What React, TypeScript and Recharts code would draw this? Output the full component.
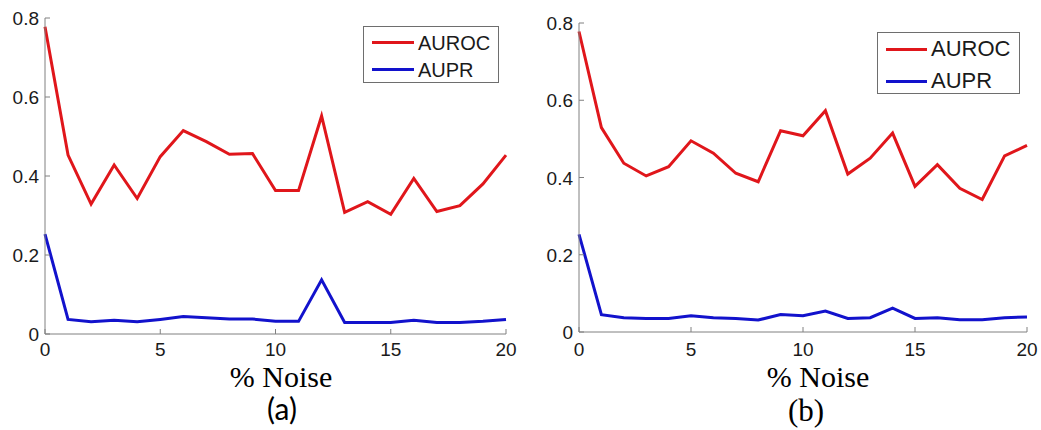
import { LineChart, Line, XAxis, YAxis, Legend } from "recharts";

// % noise levels (x) and the two scores per panel
const noise = [0, 1, 2, 3, 4, 5, 6, 7, 8, 9, 10, 11, 12, 13, 14, 15, 16, 17, 18, 19, 20];
const xTicks = [0, 5, 10, 15, 20];
const yTicks = [0, 0.2, 0.4, 0.6, 0.8];
const legendOrder = ["AUROC", "AUPR"];

const aurocA = [0.778, 0.453, 0.329, 0.428, 0.343, 0.449, 0.515, 0.487, 0.455, 0.457, 0.363,
  0.363, 0.552, 0.308, 0.335, 0.303, 0.394, 0.31, 0.325, 0.38, 0.453];
const auprA = [0.253, 0.037, 0.031, 0.035, 0.031, 0.037, 0.044, 0.041, 0.038, 0.038, 0.032,
  0.032, 0.137, 0.029, 0.029, 0.029, 0.035, 0.029, 0.029, 0.032, 0.037];

const aurocB = [0.778, 0.529, 0.437, 0.404, 0.428, 0.495, 0.463, 0.411, 0.389, 0.521, 0.508,
  0.573, 0.409, 0.45, 0.515, 0.377, 0.433, 0.372, 0.343, 0.456, 0.483];
const auprB = [0.253, 0.045, 0.037, 0.035, 0.035, 0.042, 0.037, 0.035, 0.031, 0.045, 0.042,
  0.054, 0.035, 0.037, 0.062, 0.035, 0.037, 0.032, 0.032, 0.037, 0.039];

const RED = "#e0161b";
const BLUE = "#1212cc";
const AXIS = "#808080";
const SANS = "'Liberation Sans', Arial, sans-serif";
const SERIF = "'Liberation Serif', 'Times New Roman', serif";
const TICK_LEN = 5;
const GAP = 8; // tickMargin used to find the axis line back inside custom ticks

interface LegendCfg {
  left: number;
  top: number;
  w: number;
  h: number;
  row: number;
  padTop: number;
  line: number;
  fs: number;
}

interface PanelProps {
  left: number;
  width: number;
  margin: { top: number; right: number; bottom: number; left: number };
  yWidth: number;
  fs: number;
  drop: number;
  legend: LegendCfg;
  auroc: number[];
  aupr: number[];
}

const fmtY = (v: number) => (v === 0 ? "0" : v.toFixed(1));

function Panel({ left, width, margin, yWidth, fs, drop, legend, auroc, aupr }: PanelProps) {
  const data = noise.map((n, i) => ({ noise: n, auroc: auroc[i], aupr: aupr[i] }));

  const bottomTick = (p: any) => {
    const axisY = p.y - GAP;
    return (
      <g>
        <line x1={p.x} x2={p.x} y1={axisY} y2={axisY - TICK_LEN} stroke={AXIS} />
        <text x={p.x} y={axisY + drop} textAnchor="middle" fontSize={fs} fontFamily={SANS} fill="#1a1a1a">
          {p.payload.value}
        </text>
      </g>
    );
  };
  const topTick = (p: any) => {
    const axisY = p.y + GAP;
    return <line x1={p.x} x2={p.x} y1={axisY} y2={axisY + TICK_LEN} stroke={AXIS} />;
  };
  const leftTick = (p: any) => {
    const axisX = p.x + GAP;
    return (
      <g>
        <line x1={axisX} x2={axisX + TICK_LEN} y1={p.y} y2={p.y} stroke={AXIS} />
        <text x={axisX - 6} y={p.y + 7} textAnchor="end" fontSize={fs} fontFamily={SANS} fill="#1a1a1a">
          {fmtY(p.payload.value)}
        </text>
      </g>
    );
  };
  const rightTick = (p: any) => {
    const axisX = p.x - GAP;
    return <line x1={axisX} x2={axisX - TICK_LEN} y1={p.y} y2={p.y} stroke={AXIS} />;
  };

  const legendContent = (props: any) => {
    const items = [...(props.payload ?? [])].sort(
      (a: any, b: any) => legendOrder.indexOf(a.value) - legendOrder.indexOf(b.value)
    );
    return (
      <div
        style={{
          width: legend.w,
          height: legend.h,
          boxSizing: "border-box",
          border: "1px solid #6e6e6e",
          background: "#fff",
          paddingTop: legend.padTop,
        }}
      >
        {items.map((e: any) => (
          <div key={e.value} style={{ display: "flex", alignItems: "center", height: legend.row }}>
            <div style={{ width: legend.line, height: 3, background: e.color, marginLeft: 8, marginRight: 4 }} />
            <span style={{ fontFamily: SANS, fontSize: legend.fs, color: "#1a1a1a", lineHeight: 1 }}>{e.value}</span>
          </div>
        ))}
      </div>
    );
  };

  return (
    <div style={{ position: "absolute", left, top: 0 }}>
      <LineChart width={width} height={430} data={data} margin={margin}>
        <XAxis
          dataKey="noise"
          type="number"
          domain={[0, 20]}
          ticks={xTicks}
          height={30}
          tickSize={0}
          tickMargin={GAP}
          tick={bottomTick}
          axisLine={{ stroke: AXIS }}
        />
        <XAxis
          xAxisId="top"
          orientation="top"
          dataKey="noise"
          type="number"
          domain={[0, 20]}
          ticks={xTicks}
          height={0}
          tickSize={0}
          tickMargin={GAP}
          tick={topTick}
          axisLine={{ stroke: AXIS }}
        />
        <YAxis
          type="number"
          domain={[0, 0.8]}
          ticks={yTicks}
          width={yWidth}
          tickSize={0}
          tickMargin={GAP}
          tick={leftTick}
          axisLine={{ stroke: AXIS }}
        />
        <YAxis
          yAxisId="right"
          orientation="right"
          type="number"
          domain={[0, 0.8]}
          ticks={yTicks}
          width={0}
          tickSize={0}
          tickMargin={GAP}
          tick={rightTick}
          axisLine={{ stroke: AXIS }}
        />
        <Legend
          layout="vertical"
          align="center"
          verticalAlign="middle"
          content={legendContent}
          wrapperStyle={{ left: legend.left, top: legend.top, width: legend.w, height: legend.h }}
        />
        <Line type="linear" dataKey="auroc" name="AUROC" stroke={RED} strokeWidth={3} dot={false} isAnimationActive={false} />
        <Line type="linear" dataKey="aupr" name="AUPR" stroke={BLUE} strokeWidth={3} dot={false} isAnimationActive={false} />
      </LineChart>
    </div>
  );
}

export default function App() {
  return (
    <div style={{ position: "absolute", left: 0, top: 0, width: 1041, height: 430, background: "#fff" }}>
      <Panel
        left={0}
        width={520}
        margin={{ top: 18, right: 14, bottom: 66, left: 0 }}
        yWidth={45}
        fs={19}
        drop={22}
        legend={{ left: 363, top: 26, w: 136, h: 57, row: 27, padTop: 2, line: 42, fs: 20 }}
        auroc={aurocA}
        aupr={auprA}
      />
      <Panel
        left={520}
        width={521}
        margin={{ top: 23, right: 14, bottom: 68, left: 0 }}
        yWidth={59}
        fs={19}
        drop={24}
        legend={{ left: 357, top: 32, w: 143, h: 62, row: 32, padTop: 0, line: 41, fs: 22 }}
        auroc={aurocB}
        aupr={auprB}
      />
      <svg width={1041} height={430} style={{ position: "absolute", left: 0, top: 0, pointerEvents: "none" }}>
        <text x={281} y={387} textAnchor="middle" fontFamily={SERIF} fontSize={30} fill="#000">% Noise</text>
        <text x={282} y={420} textAnchor="middle" fontFamily="Lato, 'Open Sans', sans-serif" fontSize={30} fill="#000">(a)</text>
        <text x={818} y={387} textAnchor="middle" fontFamily={SERIF} fontSize={30} fill="#000">% Noise</text>
        <text x={806} y={421} textAnchor="middle" fontFamily={SERIF} fontSize={31} fill="#000">(b)</text>
      </svg>
    </div>
  );
}
